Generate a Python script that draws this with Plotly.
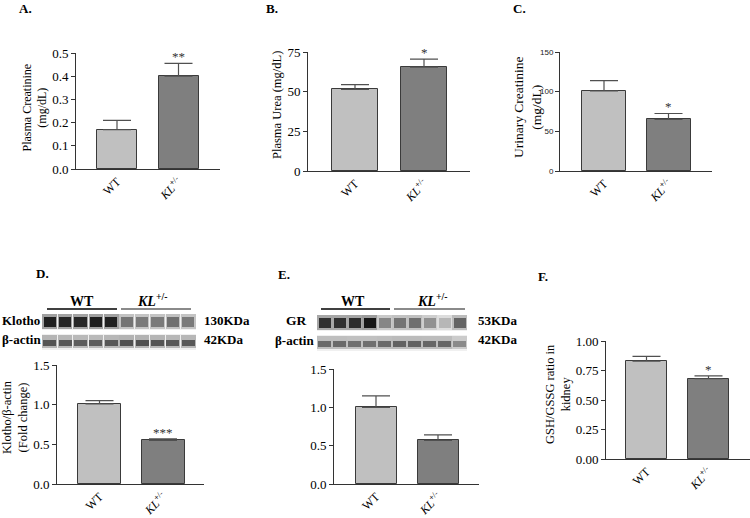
import plotly.graph_objects as go

W, H = 750, 518

# ---------------- data ----------------
categories = ["WT", "<i>KL</i><sup>+/-</sup>"]

plasma_creatinine = [0.17, 0.40]
plasma_creatinine_err = [0.04, 0.055]

plasma_urea = [51.5, 65.5]
plasma_urea_err = [3.0, 5.0]

urinary_creatinine = [101, 65]
urinary_creatinine_err = [13, 7.5]

klotho_ratio = [1.01, 0.55]
klotho_ratio_err = [0.04, 0.02]

gr_ratio = [1.00, 0.57]
gr_ratio_err = [0.15, 0.07]

gsh_gssg = [0.83, 0.68]
gsh_gssg_err = [0.04, 0.025]

# western blot band intensities (0 = blank, 1 = darkest), one value per lane
klotho_bands = [0.95, 0.93, 0.92, 0.96, 0.95, 0.58, 0.55, 0.55, 0.6, 0.55]
klotho_actin_bands = [0.72, 0.70, 0.68, 0.68, 0.70, 0.74, 0.74, 0.72, 0.70, 0.70]
gr_bands = [0.88, 0.88, 0.9, 1.0, 0.5, 0.58, 0.6, 0.45, 0.28, 0.65]
gr_actin_bands = [0.62, 0.62, 0.6, 0.6, 0.62, 0.66, 0.66, 0.64, 0.64, 0.48]

# --------------------------------------
SERIF = "Liberation Serif"
SANS = "Liberation Sans"
WT_COL = "#c0c0c0"
KL_COL = "#7f7f7f"


def PX(x):
    return x / W


def PY(y):
    return 1 - y / H


fig = go.Figure()
layout = dict(
    width=W, height=H, margin=dict(l=0, r=0, t=0, b=0, pad=0),
    paper_bgcolor="white", plot_bgcolor="white", showlegend=False,
    barmode="overlay", bargap=0,
)
annotations = []
shapes = []


def bar_panel(i, vals, errs, x0, x1, c0, c1, bw_px, ytop, ybot, yrange, tickvals,
              ticktext, tickfont, stars=None, cap=14):
    s = c1 - c0
    xr = [(x0 - c0) / s, (x1 - c0) / s]
    fig.add_trace(go.Bar(
        x=[0, 1], y=vals, width=bw_px / s,
        marker=dict(color=[WT_COL, KL_COL], line=dict(color="#3a3a3a", width=1)),
        error_y=dict(type="data", array=errs, arrayminus=[0, 0], symmetric=False,
                     color="#505050", thickness=1.2, width=cap),
        xaxis=f"x{i}", yaxis=f"y{i}", hoverinfo="skip",
    ))
    layout[f"xaxis{i}"] = dict(
        domain=[PX(x0), PX(x1)], range=xr, anchor=f"y{i}",
        tickvals=[0, 1], ticktext=categories, tickangle=-45,
        showline=True, linecolor="#333", linewidth=1, ticks="",
        showgrid=False, zeroline=False, automargin=False,
        tickfont=dict(family=SERIF, size=12, color="black"),
    )
    layout[f"yaxis{i}"] = dict(
        domain=[PY(ybot), PY(ytop)], range=yrange, anchor=f"x{i}",
        tickvals=tickvals, ticktext=ticktext, ticks="outside", ticklen=4,
        tickwidth=1, tickcolor="#333", showline=True, linecolor="#333",
        linewidth=1, showgrid=False, zeroline=False, tickfont=tickfont,
        automargin=False,
    )
    if stars:
        idx, txt_ = stars
        annotations.append(dict(
            x=idx, y=vals[idx] + errs[idx], xref=f"x{i}", yref=f"y{i}",
            text=txt_, showarrow=False, yanchor="bottom", yshift=-3,
            font=dict(family=SERIF, size=13, color="#333"),
        ))


tf = dict(family=SERIF, size=13, color="black")

# A
bar_panel(1, plasma_creatinine, plasma_creatinine_err, 76, 220, 117, 178.5, 40,
          53, 169, [0, 0.5], [0, 0.1, 0.2, 0.3, 0.4, 0.5],
          ["0.0", "0.1", "0.2", "0.3", "0.4", "0.5"], tf, stars=(1, "**"))
# B
bar_panel(2, plasma_urea, plasma_urea_err, 308, 470, 355, 424, 46,
          52, 171, [0, 75], [0, 25, 50, 75], ["0", "25", "50", "75"], tf,
          stars=(1, "*"))
# C
bar_panel(3, urinary_creatinine, urinary_creatinine_err, 560, 712, 604, 668.5, 44,
          52, 171, [0, 150], [0, 50, 100, 150], ["0", "50", "100", "150"],
          dict(family=SANS, size=8, color="#222"), stars=(1, "*"))
# D chart
bar_panel(4, klotho_ratio, klotho_ratio_err, 57, 204, 99.5, 163, 43,
          365, 484, [0, 1.5], [0, 0.5, 1.0, 1.5], ["0.0", "0.5", "1.0", "1.5"], tf,
          stars=(1, "***"))
# E chart
bar_panel(5, gr_ratio, gr_ratio_err, 334, 479, 376, 438, 41,
          369, 484, [0, 1.5], [0, 0.5, 1.0, 1.5], ["0.0", "0.5", "1.0", "1.5"], tf)
# F
bar_panel(6, gsh_gssg, gsh_gssg_err, 606, 750, 646.5, 708.5, 41,
          341, 459, [0, 1.0], [0, 0.25, 0.5, 0.75, 1.0],
          ["0.00", "0.25", "0.50", "0.75", "1.00"], tf, stars=(1, "*"))


# ---------------- western blots ----------------
def gray(v, k=1.0):
    g = int(round(246 - 225 * v * k))
    return f"rgb({g},{g},{g})"


def blot(i, top_bands, actin_bands, x0, x1, ytop, ybot, row_top_px, row_bot_px):
    n = len(top_bands)
    lanes = list(range(n))
    sp = row_bot_px - row_top_px
    yr = [-(ybot - row_bot_px) / sp, 1 + (row_top_px - ytop) / sp]
    # light background strips
    for row in (0, 1):
        fig.add_trace(go.Bar(x=[(n - 1) / 2], y=[0.8], base=[row - 0.4], width=[n],
                             marker=dict(color="#f0f0f0", line=dict(width=0)),
                             xaxis=f"x{i}", yaxis=f"y{i}", hoverinfo="skip"))
    # halos
    fig.add_trace(go.Bar(x=lanes, y=[0.76] * n, base=[0.62] * n, width=0.94,
                         marker=dict(color=[gray(v, 0.4) for v in top_bands], line=dict(width=0)),
                         xaxis=f"x{i}", yaxis=f"y{i}", hoverinfo="skip"))
    fig.add_trace(go.Bar(x=lanes, y=[0.66] * n, base=[-0.33] * n, width=0.94,
                         marker=dict(color=[gray(v, 0.4) for v in actin_bands], line=dict(width=0)),
                         xaxis=f"x{i}", yaxis=f"y{i}", hoverinfo="skip"))
    # cores
    fig.add_trace(go.Bar(x=lanes, y=[0.5] * n, base=[0.75] * n, width=0.8,
                         marker=dict(color=[gray(v) for v in top_bands], line=dict(width=0)),
                         xaxis=f"x{i}", yaxis=f"y{i}", hoverinfo="skip"))
    fig.add_trace(go.Bar(x=lanes, y=[0.3] * n, base=[-0.22] * n, width=0.84,
                         marker=dict(color=[gray(v) for v in actin_bands], line=dict(width=0)),
                         xaxis=f"x{i}", yaxis=f"y{i}", hoverinfo="skip"))
    layout[f"xaxis{i}"] = dict(domain=[PX(x0), PX(x1)], range=[-0.5, n - 0.5],
                               visible=False, anchor=f"y{i}")
    layout[f"yaxis{i}"] = dict(domain=[PY(ybot), PY(ytop)], range=yr,
                               visible=False, anchor=f"x{i}")


blot(7, klotho_bands, klotho_actin_bands, 42, 196, 312, 350, 321.5, 341.5)
blot(8, gr_bands, gr_actin_bands, 317, 467, 313, 351, 322.5, 342.5)


def txt(x, y, t, size=13, bold=False, anchor="center", family=SERIF, angle=0, color="black"):
    if bold:
        t = f"<b>{t}</b>"
    annotations.append(dict(x=PX(x), y=PY(y), xref="paper", yref="paper", text=t,
                            showarrow=False, xanchor=anchor, yanchor="middle",
                            textangle=angle, font=dict(family=family, size=size, color=color)))


# panel letters
txt(17, 9, "A.", 13, True, "left")
txt(264, 9, "B.", 13, True, "left")
txt(511, 9, "C.", 13, True, "left")
txt(34, 273, "D.", 13, True, "left")
txt(276, 274, "E.", 13, True, "left")
txt(536, 276, "F.", 13, True, "left")

# y titles
txt(34.5, 108, "Plasma Creatinine<br>(mg/dL)", 12, angle=-90)
txt(277, 105, "Plasma Urea (mg/dL)", 12.5, angle=-90)
txt(527, 107, "Urinary Creatinine<br>(mg/dL)", 13.5, angle=-90)
txt(15, 417, "Klotho/β-actin<br>(Fold change)", 12.5, angle=-90)
txt(558, 394, "GSH/GSSG ratio in<br>kidney", 12.5, angle=-90)

# blot labels D
txt(82, 301, "WT", 14, True)
txt(152, 300, "<i>KL</i><sup>+/-</sup>", 14, True)
txt(0, 320, "Klotho", 13, True, "left")
txt(0, 339, "β-actin", 13, True, "left")
txt(202, 320, "130KDa", 13, True, "left")
txt(202, 339, "42KDa", 13, True, "left")
shapes.append(dict(type="line", xref="paper", yref="paper", x0=PX(47), x1=PX(117),
                   y0=PY(309), y1=PY(309), line=dict(color="black", width=1.5)))
shapes.append(dict(type="line", xref="paper", yref="paper", x0=PX(121), x1=PX(191),
                   y0=PY(309), y1=PY(309), line=dict(color="#8a8a8a", width=2)))

# blot labels E
txt(353, 301, "WT", 14, True)
txt(432, 300, "<i>KL</i><sup>+/-</sup>", 14, True)
txt(296, 320, "GR", 13.5, True)
txt(273, 340, "β-actin", 13, True, "left")
txt(476, 320, "53KDa", 13, True, "left")
txt(476, 339, "42KDa", 13, True, "left")
shapes.append(dict(type="line", xref="paper", yref="paper", x0=PX(321), x1=PX(390),
                   y0=PY(309), y1=PY(309), line=dict(color="black", width=1.5)))
shapes.append(dict(type="line", xref="paper", yref="paper", x0=PX(394), x1=PX(465),
                   y0=PY(309), y1=PY(309), line=dict(color="#8a8a8a", width=2)))

layout["annotations"] = annotations
layout["shapes"] = shapes
fig.update_layout(**layout)
fig.write_html("out.html", config={"displayModeBar": False},
               post_script="document.body.style.margin='0';document.body.style.overflow='hidden';")
